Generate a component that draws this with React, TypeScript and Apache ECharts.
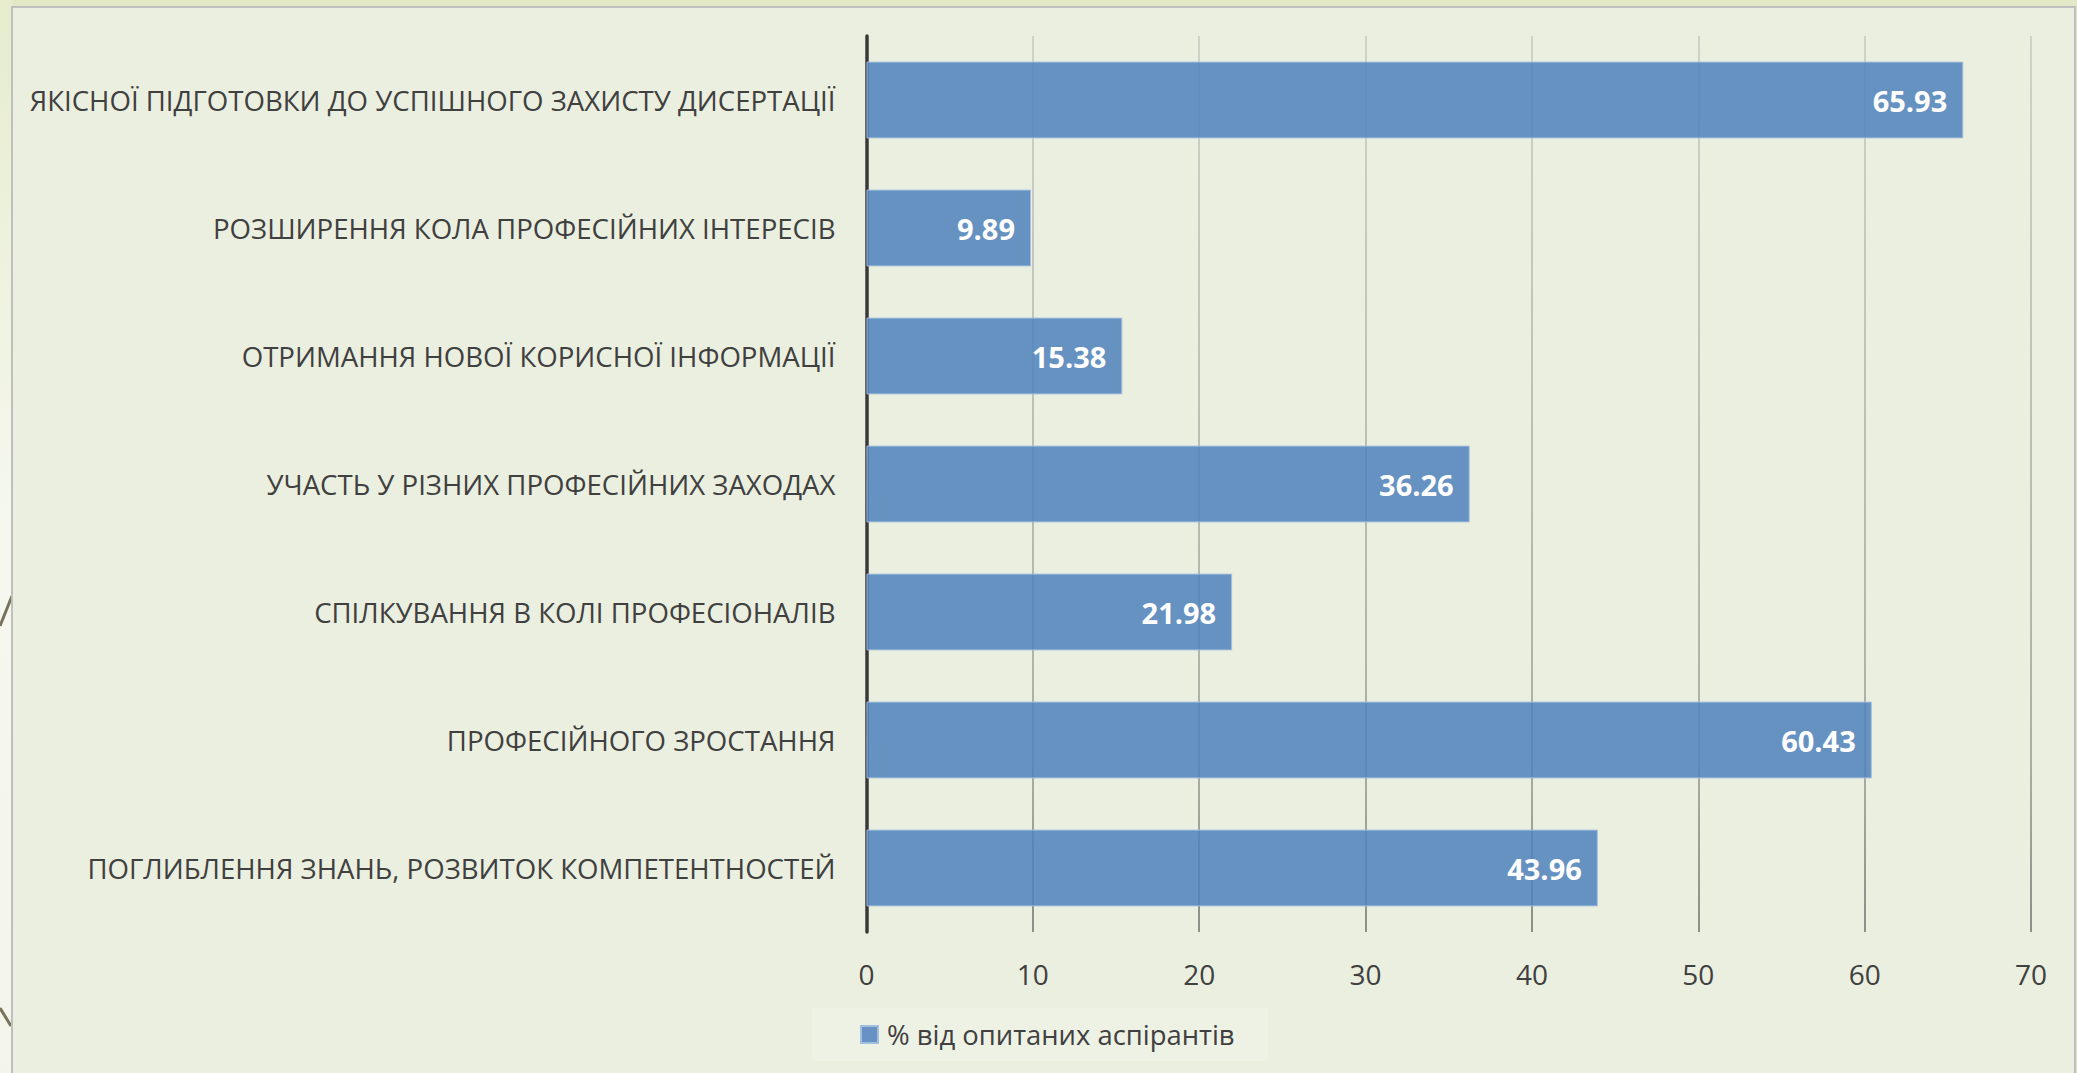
import React, { useEffect, useRef } from "react";
import * as echarts from "echarts";

const categories = [
  "ЯКІСНОЇ ПІДГОТОВКИ ДО УСПІШНОГО ЗАХИСТУ ДИСЕРТАЦІЇ",
  "РОЗШИРЕННЯ КОЛА ПРОФЕСІЙНИХ ІНТЕРЕСІВ",
  "ОТРИМАННЯ НОВОЇ КОРИСНОЇ ІНФОРМАЦІЇ",
  "УЧАСТЬ У РІЗНИХ ПРОФЕСІЙНИХ ЗАХОДАХ",
  "СПІЛКУВАННЯ В КОЛІ ПРОФЕСІОНАЛІВ",
  "ПРОФЕСІЙНОГО ЗРОСТАННЯ",
  "ПОГЛИБЛЕННЯ ЗНАНЬ, РОЗВИТОК КОМПЕТЕНТНОСТЕЙ",
];
const values = [65.93, 9.89, 15.38, 36.26, 21.98, 60.43, 43.96];
const seriesName = "% від опитаних аспірантів";
const xMin = 0;
const xMax = 70;
const xInterval = 10;

const W = 2077;
const H = 1073;
const FONT = "'Open Sans', 'DejaVu Sans', sans-serif";

export default function App() {
  const ref = useRef<HTMLDivElement>(null);
  useEffect(() => {
    if (!ref.current) return;
    const chart = echarts.init(ref.current, undefined, { renderer: "svg" });
    chart.setOption({
      animation: false,
      backgroundColor: "#E2E8C6",
      textStyle: { fontFamily: FONT },
      graphic: [
        {
          type: "rect",
          z: -10,
          silent: true,
          shape: { x: 0, y: 0, width: 13, height: H },
          style: {
            fill: new echarts.graphic.LinearGradient(0, 0, 0, 1, [
              { offset: 0, color: "#E6ECCD" },
              { offset: 0.5, color: "#F6F8EF" },
              { offset: 1, color: "#F3F5EA" },
            ]),
          },
        },
        {
          type: "line",
          z: -9,
          silent: true,
          shape: { x1: 0, y1: 626, x2: 12, y2: 596 },
          style: { stroke: "#7A735C", lineWidth: 3 },
        },
        {
          type: "line",
          z: -9,
          silent: true,
          shape: { x1: 0, y1: 1008, x2: 11, y2: 1026 },
          style: { stroke: "#7A735C", lineWidth: 3 },
        },
        {
          type: "rect",
          z: -8,
          silent: true,
          shape: { x: 12, y: 7, width: 2063, height: H },
          style: { fill: "#EBEFDF", stroke: "#BFBFBF", lineWidth: 2 },
        },
      ],
      grid: {
        left: 866.5,
        right: W - 2031,
        top: 36,
        bottom: H - 932,
        containLabel: false,
      },
      legend: {
        data: [seriesName],
        left: 812,
        top: 1008,
        padding: [13, 34, 13, 48],
        backgroundColor: "rgba(255,255,255,0.18)",
        itemWidth: 17,
        itemHeight: 17,
        icon: "rect",
        textStyle: {
          fontSize: 27.4,
          color: "#404040",
          fontFamily: FONT,
          padding: [0, 0, 0, 4],
        },
      },
      xAxis: {
        type: "value",
        min: xMin,
        max: xMax,
        interval: xInterval,
        axisLine: { show: false },
        axisTick: { show: false },
        axisLabel: {
          fontSize: 28,
          color: "#404040",
          margin: 28,
          fontFamily: FONT,
        },
        splitLine: {
          show: true,
          lineStyle: {
            width: 2,
            color: new echarts.graphic.LinearGradient(
              0,
              36,
              0,
              932,
              [
                { offset: 0, color: "#D0D1C8" },
                { offset: 0.8, color: "#ADAEA5" },
                { offset: 1, color: "#8E8E88" },
              ],
              true
            ),
          },
        },
      },
      yAxis: {
        type: "category",
        data: categories,
        inverse: true,
        axisLine: { show: true, lineStyle: { color: "#3A3A3A", width: 3.5 } },
        axisTick: { show: false },
        axisLabel: {
          fontSize: 27.6,
          color: "#404040",
          margin: 31,
          fontFamily: FONT,
        },
        splitLine: { show: false },
      },
      series: [
        {
          name: seriesName,
          type: "bar",
          data: values,
          barCategoryGap: "40%",
          itemStyle: {
            color: "rgba(79,129,189,0.85)",
            borderColor: "#A3BFE0",
            borderWidth: 1,
          },
          label: {
            show: true,
            position: "insideRight",
            distance: 16,
            color: "#FFFFFF",
            fontWeight: "bold",
            fontSize: 29,
            fontFamily: FONT,
            formatter: (p: any) => p.value.toFixed(2),
          },
        },
      ],
    });
    return () => chart.dispose();
  }, []);
  return (
    <div
      ref={ref}
      style={{ position: "fixed", left: 0, top: 0, width: W, height: H }}
    />
  );
}
